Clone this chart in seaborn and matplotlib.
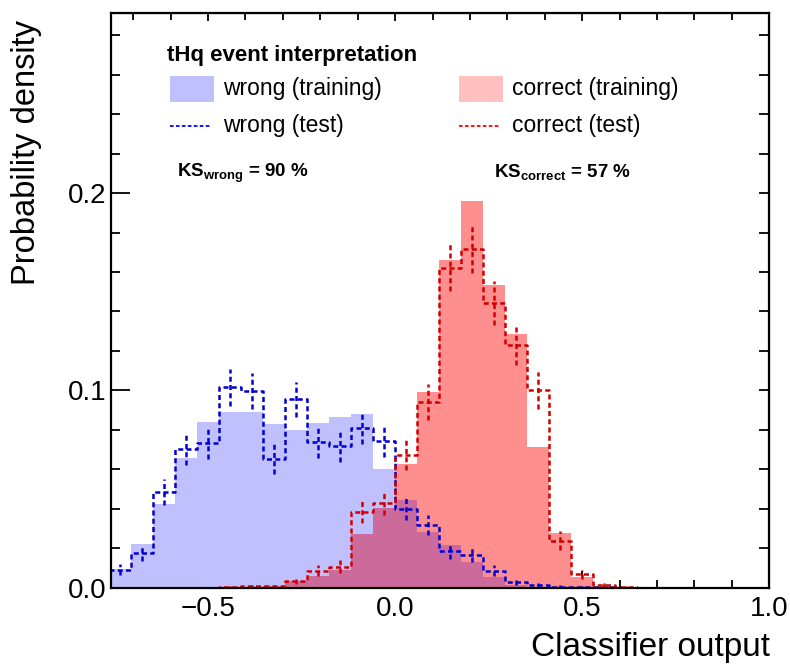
import numpy as np
import pandas as pd
import seaborn as sns
import matplotlib.pyplot as plt
from matplotlib.patches import Rectangle
from matplotlib.lines import Line2D
from matplotlib.ticker import MultipleLocator

# bins of width 1/17 from -13/17 to 1
edges = np.arange(-13, 18) / 17.0
centers = 0.5 * (edges[:-1] + edges[1:])

wrong_train = [0.0095, 0.0220, 0.0423, 0.0655, 0.0839, 0.0893, 0.0890, 0.0831, 0.0797, 0.0834,
               0.0865, 0.0882, 0.0602, 0.0447, 0.0284, 0.0217, 0.0132, 0.0052, 0.0012, 0.0005,
               0.0003, 0.0002, 0, 0, 0, 0, 0, 0, 0, 0]
wrong_test = [0.0092, 0.0176, 0.0484, 0.0702, 0.0733, 0.1017, 0.0997, 0.0651, 0.0954, 0.0738,
              0.0717, 0.0811, 0.0743, 0.0400, 0.0318, 0.0188, 0.0168, 0.0086, 0.0027, 0.0014,
              0.0006, 0.0004, 0.0002, 0.0001, 0, 0, 0, 0, 0, 0]
wrong_err = [0.0028, 0.0039, 0.0065, 0.0078, 0.0080, 0.0094, 0.0093, 0.0075, 0.0091, 0.0080,
             0.0079, 0.0084, 0.0080, 0.0059, 0.0053, 0.0040, 0.0038, 0.0027, 0.0015, 0.0011,
             0.0007, 0.0006, 0.0004, 0.0003, 0, 0, 0, 0, 0, 0]
correct_train = [0, 0, 0, 0, 0, 0, 0, 0.0010, 0.0036, 0.0060,
                 0.0088, 0.0270, 0.0405, 0.0628, 0.0991, 0.1660, 0.1961, 0.1536, 0.1288, 0.0712,
                 0.0278, 0.0052, 0.0005, 0, 0, 0, 0, 0, 0, 0]
correct_test = [0, 0, 0, 0, 0, 0.0003, 0.0008, 0.0008, 0.0036, 0.0086,
                0.0107, 0.0386, 0.0428, 0.0675, 0.0940, 0.1623, 0.1719, 0.1445, 0.1232, 0.1000,
                0.0239, 0.0068, 0.0014, 0.0003, 0, 0, 0, 0, 0, 0]
correct_err = [0, 0, 0, 0, 0, 0.0005, 0.0008, 0.0008, 0.0018, 0.0027,
               0.0031, 0.0058, 0.0061, 0.0077, 0.0090, 0.0119, 0.0122, 0.0112, 0.0104, 0.0093,
               0.0046, 0.0024, 0.0011, 0.0005, 0, 0, 0, 0, 0, 0]

sns.set_style("ticks")
plt.rcParams['font.family'] = ['Liberation Sans', 'DejaVu Sans']
plt.rcParams['mathtext.fontset'] = 'custom'
plt.rcParams['mathtext.rm'] = 'Liberation Sans'
plt.rcParams['mathtext.bf'] = 'Liberation Sans:bold'
for key in ['text.color', 'axes.labelcolor', 'xtick.color', 'ytick.color', 'axes.edgecolor']:
    plt.rcParams[key] = 'black'

W, H = 790, 664
def fx(px):
    return px / W
def fy(py):
    return 1 - py / H

fig = plt.figure(figsize=(7.9, 6.64), dpi=100)
ax = fig.add_axes([fx(110.7), fy(587.7), (769.3 - 110.7) / W, (587.7 - 13) / H])

blue_fill = '#c0c0ff'
red_fill = '#ff8f8f'
overlap_fill = '#cd6a9c'
blue_line = '#0000d0'
red_line = '#d00000'
dash = (0, (2.0, 1.3))

df = pd.DataFrame({'x': centers, 'wrong_train': wrong_train, 'wrong_test': wrong_test,
                   'correct_train': correct_train, 'correct_test': correct_test})
df['overlap'] = np.minimum(df['wrong_train'], df['correct_train'])
bin_list = list(edges)

for col_name, col in [('wrong_train', blue_fill), ('correct_train', red_fill), ('overlap', overlap_fill)]:
    sns.histplot(data=df, x='x', weights=col_name, bins=bin_list, element='step', fill=True,
                 color=col, alpha=1, linewidth=0, ax=ax)

for col_name, err, col in [('wrong_test', wrong_err, blue_line), ('correct_test', correct_err, red_line)]:
    sns.histplot(data=df, x='x', weights=col_name, bins=bin_list, element='step', fill=False,
                 color=col, linewidth=1.8, linestyle=dash, ax=ax)
    vals = df[col_name].to_numpy()
    err = np.array(err)
    m = err > 0
    ax.vlines(centers[m], vals[m] - err[m], vals[m] + err[m], colors=col,
              linewidth=1.8, linestyles=dash)

ax.set_xlim(-0.76, 1.0)
ax.set_ylim(0, 0.2913)
ax.set_xlabel('')
ax.set_ylabel('')

ax.xaxis.set_major_locator(MultipleLocator(0.5))
ax.xaxis.set_minor_locator(MultipleLocator(0.1))
ax.yaxis.set_major_locator(MultipleLocator(0.1))
ax.yaxis.set_minor_locator(MultipleLocator(0.02))
ax.tick_params(axis='x', which='major', direction='in', length=12, width=1.3, labelsize=20, pad=6)
ax.tick_params(axis='x', which='minor', direction='in', length=6, width=1.3)
ax.tick_params(axis='y', which='major', direction='in', length=13.5, width=1.3, labelsize=20, pad=3)
ax.tick_params(axis='y', which='minor', direction='in', length=6.5, width=1.3)
for s in ax.spines.values():
    s.set_linewidth(1.6)
    s.set_visible(True)
    s.set_color('black')

top = ax.secondary_xaxis('top')
top.xaxis.set_major_locator(MultipleLocator(0.5))
top.xaxis.set_minor_locator(MultipleLocator(0.1))
top.tick_params(which='major', direction='in', length=6, width=1.3, labeltop=False)
top.tick_params(which='minor', direction='in', length=5, width=1.3)
right = ax.secondary_yaxis('right')
right.yaxis.set_major_locator(MultipleLocator(0.1))
right.yaxis.set_minor_locator(MultipleLocator(0.02))
right.tick_params(which='major', direction='in', length=7.5, width=1.3, labelright=False)
right.tick_params(which='minor', direction='in', length=7, width=1.3)

fig.text(fx(770), fy(656), 'Classifier output', ha='right', va='baseline', fontsize=24)
fig.text(fx(35), fy(20), 'Probability density', rotation=90, rotation_mode='anchor',
         ha='right', va='baseline', fontsize=23.5)

# legend block
fig.text(fx(167), fy(61), 'tHq event interpretation', fontsize=16, fontweight='bold',
         ha='left', va='baseline')
fig.add_artist(Rectangle((fx(170), fy(102)), (214 - 170) / W, (102 - 76) / H,
                         transform=fig.transFigure, color='#c0c0ff', lw=0))
fig.add_artist(Rectangle((fx(459), fy(102)), (503 - 459) / W, (102 - 76) / H,
                         transform=fig.transFigure, color='#ffc0c0', lw=0))
fig.add_artist(Line2D([fx(170), fx(211)], [fy(126), fy(126)], transform=fig.transFigure,
                      color='#0000ff', lw=1.3, ls=dash))
fig.add_artist(Line2D([fx(459), fx(500)], [fy(126), fy(126)], transform=fig.transFigure,
                      color='#ff0000', lw=1.3, ls=dash))
fig.text(fx(223), fy(95), 'wrong (training)', fontsize=16.5, va='baseline')
fig.text(fx(512), fy(95), 'correct (training)', fontsize=16.5, va='baseline')
fig.text(fx(223), fy(132), 'wrong (test)', fontsize=16.5, va='baseline')
fig.text(fx(512), fy(132), 'correct (test)', fontsize=16.5, va='baseline')

fig.text(fx(177), fy(177), r'$\mathbf{KS_{wrong}}$ = 90 %', fontsize=13.5,
         fontweight='bold', va='baseline')
fig.text(fx(494), fy(177), r'$\mathbf{KS_{correct}}$ = 57 %', fontsize=13.5,
         fontweight='bold', va='baseline')

fig.savefig('out.png', dpi=100)
